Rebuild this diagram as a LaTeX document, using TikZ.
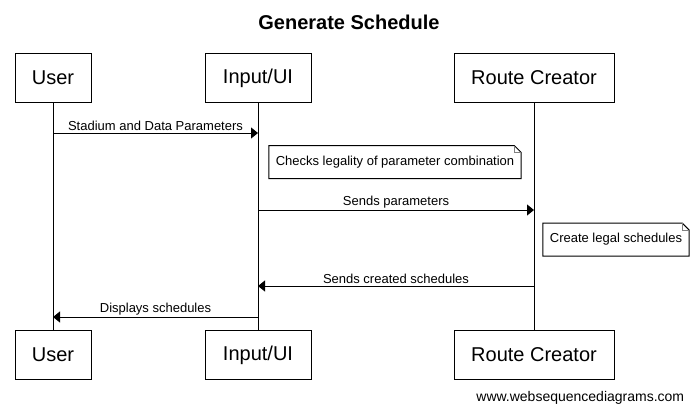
\documentclass[tikz,border=0pt]{standalone}
\usepackage{fontspec}
\setmainfont{Liberation Sans}
\usepackage{tikz}
\usetikzlibrary{arrows.meta, positioning}

\begin{document}
\begin{tikzpicture}[x=1pt, y=-1pt, line width=1pt,
    actor/.style={rectangle, draw, minimum width=#1, minimum height=49pt, inner sep=0pt, font=\fontsize{20}{24}\selectfont},
    msg/.style={-{Triangle[length=7pt, width=11pt]}},
    lbl/.style={above, inner sep=1.5pt, font=\fontsize{13}{15}\selectfont},
    notebox/.style={rectangle, minimum height=32pt, inner xsep=6.5pt, font=\fontsize{13}{15}\selectfont},
]
    \useasboundingbox (0,0) rectangle (698,413);
    \node[font=\fontsize{20}{24}\selectfont\bfseries] (title) at (349,22) {Generate Schedule};

    \node[actor=76pt] (user) at (53,78) {User};
    \node[actor=106pt, right=113pt of user] (ui) {Input/UI};
    \node[actor=160pt, right=142pt of ui] (rc) {Route Creator};

    \node[actor=76pt, below=227pt of user] (userB) {User};
    \node[actor=106pt, below=227pt of ui] (uiB) {Input/UI};
    \node[actor=160pt, below=227pt of rc] (rcB) {Route Creator};

    \draw (user) -- (userB);
    \draw (ui) -- (uiB);
    \draw (rc) -- (rcB);

    \draw[msg] (user |- 0,133) -- node[lbl] {Stadium and Data Parameters} (ui |- 0,133);
    \draw[msg] (ui |- 0,210) -- node[lbl] {Sends parameters} (rc |- 0,210);
    \draw[msg] (rc |- 0,286) -- node[lbl] {Sends created schedules} (ui |- 0,286);
    \draw[msg] (ui |- 0,317) -- node[lbl] {Displays schedules} (user |- 0,317);

    % notes with folded corner
    \node[notebox] (check) at (395,162) {Checks legality of parameter combination};
    \node[notebox] (create) at (616,239.5) {Create legal schedules};
    \foreach \n in {check, create} {
        \draw ([xshift=-7pt]\n.north east) -- (\n.north west) -- (\n.south west) -- (\n.south east) -- ([yshift=-7pt]\n.north east) -- cycle;
        \draw[gray] ([xshift=-7pt]\n.north east) |- ([yshift=-7pt]\n.north east);
    }

    \node[anchor=east, font=\fontsize{14}{16}\selectfont] (credit) at (688,398) {www.websequencediagrams.com};
\end{tikzpicture}
\end{document}
